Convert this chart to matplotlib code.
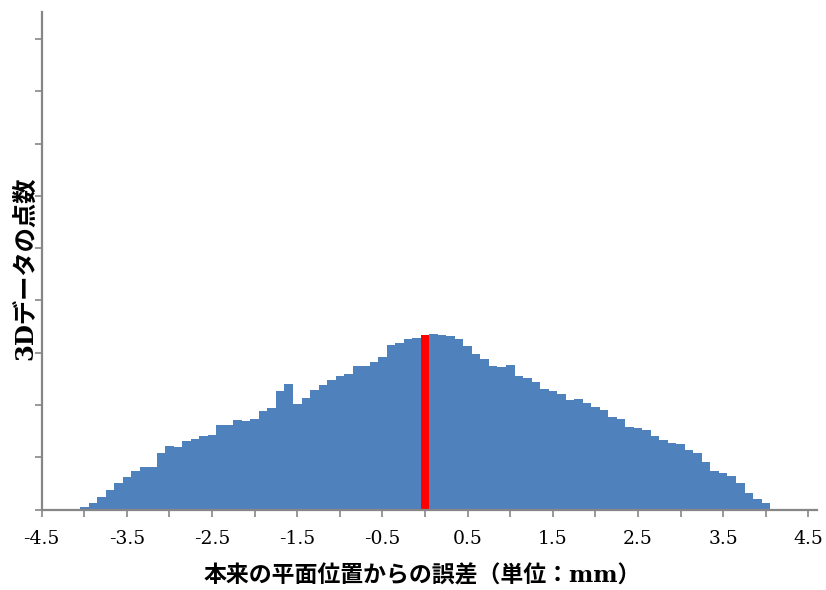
import numpy as np
import matplotlib
matplotlib.use('Agg')
import matplotlib.pyplot as plt

# histogram of deviations, bin centres -4.0 .. 4.0 step 0.1
bin_centers = np.round(np.arange(-40, 41) / 10.0, 1)
counts = [
    0.054, 0.119, 0.233, 0.373, 0.507, 0.616, 0.736, 0.813, 0.818, 1.080,
    1.214, 1.189, 1.310, 1.354, 1.405, 1.424, 1.610, 1.610, 1.706, 1.692,
    1.736, 1.878, 1.935, 2.260, 2.394, 2.017, 2.141, 2.279, 2.380, 2.476,
    2.558, 2.585, 2.750, 2.740, 2.815, 2.925, 3.155, 3.187, 3.270, 3.273,
    3.337, 3.361, 3.337, 3.312, 3.254, 3.122, 2.973, 2.881, 2.750, 2.730,
    2.757, 2.558, 2.514, 2.442, 2.304, 2.266, 2.208, 2.099, 2.107, 2.031,
    1.960, 1.897, 1.763, 1.730, 1.583, 1.558, 1.514, 1.402, 1.335, 1.271,
    1.247, 1.143, 1.075, 0.902, 0.732, 0.692, 0.635, 0.507, 0.315, 0.210,
    0.120,
]
highlight = 0.0

xticks = np.arange(-4.5, 4.51, 0.5)
xticklabels = ['%.1f' % v if i % 2 == 0 else '' for i, v in enumerate(xticks)]
yticks = np.arange(0, 10)

xlabel = '本来の平面位置からの誤差（単位：mm）'
ylabel = '3Dデータの点数'

plt.rcParams['font.family'] = ['DejaVu Serif', 'Noto Sans CJK JP']

fig = plt.figure(figsize=(8.26, 5.90), dpi=100)
ax = fig.add_axes([0.0505, 0.1364, 0.9385, 0.8427])

colors = ['#FF0000' if c == highlight else '#4F81BD' for c in bin_centers]
ax.bar(bin_centers, counts, width=0.1, color=colors, linewidth=0, zorder=2)

ax.set_xlim(-4.5, 4.6)
ax.set_ylim(0, 9.51)
ax.set_xticks(xticks)
ax.set_xticklabels(xticklabels, fontsize=13.5)
ax.set_yticks(yticks)
ax.set_yticklabels([])

for side in ('top', 'right'):
    ax.spines[side].set_visible(False)
for side in ('left', 'bottom'):
    ax.spines[side].set_color('#868686')
    ax.spines[side].set_linewidth(1.6)
ax.tick_params(axis='both', direction='out', length=5, width=1.2, color='#868686')
ax.tick_params(axis='x', pad=10)

ax.set_xlabel(xlabel, fontsize=16.5, fontweight='bold', va='center')
ax.xaxis.set_label_coords(0.4905, -0.1337)
ax.set_ylabel(ylabel, fontsize=17.5, fontweight='bold', va='center')
ax.yaxis.set_label_coords(-0.0215, 0.486)

fig.savefig('out.png', dpi=100)
